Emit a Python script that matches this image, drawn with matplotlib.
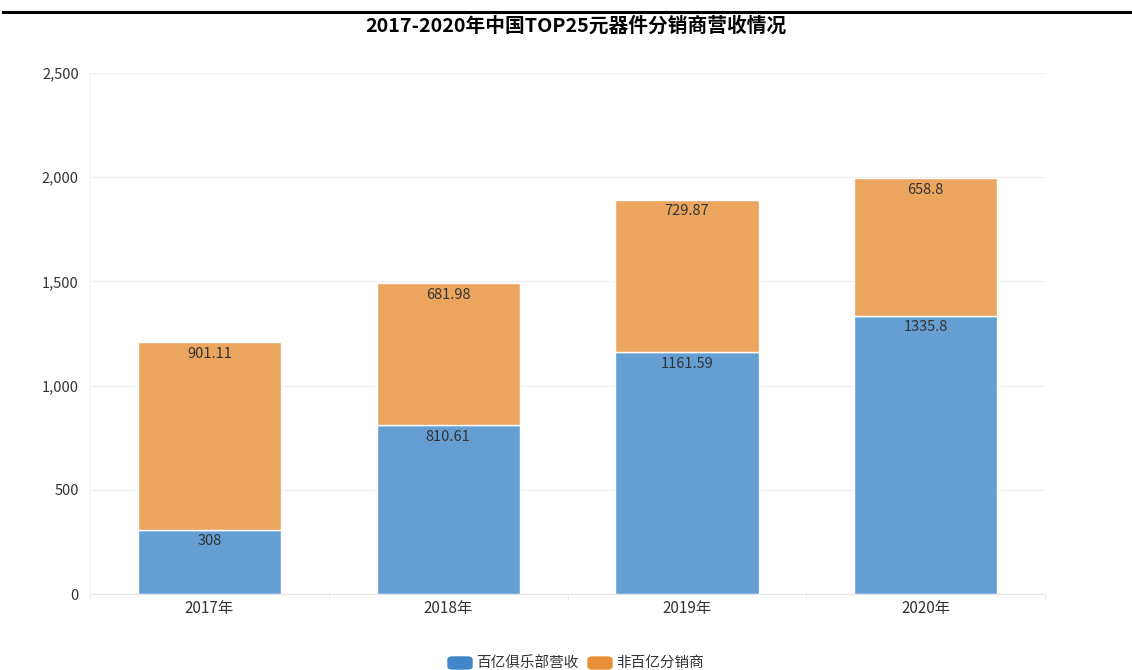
import numpy as np
import matplotlib.pyplot as plt
from matplotlib.patches import FancyBboxPatch

plt.rcParams['font.family'] = ['Noto Sans CJK SC', 'DejaVu Sans']

years = ["2017年", "2018年", "2019年", "2020年"]
club_rev = [308, 810.61, 1161.59, 1335.8]
other_rev = [901.11, 681.98, 729.87, 658.8]
club_labels = ["308", "810.61", "1161.59", "1335.8"]
other_labels = ["901.11", "681.98", "729.87", "658.8"]

blue = "#659ed3"
orange = "#eba55f"

fig = plt.figure(figsize=(11.32, 6.70), dpi=100)
ax = fig.add_axes([90 / 1132, 1 - 594 / 670, 955 / 1132, 521 / 670])

x = np.arange(len(years))
ax.bar(x, club_rev, width=0.6, color=blue, edgecolor="white", linewidth=1)
ax.bar(x, other_rev, width=0.6, bottom=club_rev, color=orange, edgecolor="white", linewidth=1)

for i in range(len(years)):
    ax.text(x[i], club_rev[i] - 22, club_labels[i], ha="center", va="top",
            fontsize=10.5, color="#333333")
    ax.text(x[i], club_rev[i] + other_rev[i] - 22, other_labels[i], ha="center", va="top",
            fontsize=10.5, color="#333333")

ax.set_xlim(-0.5, 3.5)
ax.set_ylim(0, 2500)
ax.set_yticks([0, 500, 1000, 1500, 2000, 2500])
ax.set_yticklabels(["0", "500", "1,000", "1,500", "2,000", "2,500"])
ax.set_xticks(x)
ax.set_xticklabels(years)
ax.set_xticks([-0.5, 0.5, 1.5, 2.5, 3.5], minor=True)
ax.tick_params(axis="x", which="major", length=0, pad=4, labelsize=11, labelcolor="#333333")
ax.tick_params(axis="x", which="minor", length=4, color="#e6e6e6")
ax.tick_params(axis="y", length=0, pad=8, labelsize=10.5, labelcolor="#333333")

ax.grid(axis="y", color="#f0f0f0", linewidth=1)
ax.set_axisbelow(True)
for s in ["top", "right"]:
    ax.spines[s].set_visible(False)
ax.spines["left"].set_color("#f0f0f0")
ax.spines["bottom"].set_color("#e6e6e6")

fig.text(0.509, 1 - 26 / 670, "2017-2020年中国TOP25元器件分销商营收情况", ha="center", va="center",
         fontsize=14.2, fontweight="bold", color="#000000")
fig.add_artist(plt.Line2D([3 / 1132, 1], [1 - 12 / 670, 1 - 12 / 670], color="black", linewidth=2.2))

# legend
for (lx, col, txt) in [(448, "#3f86c8", "百亿俱乐部营收"), (588, "#e8913a", "非百亿分销商")]:
    fig.add_artist(FancyBboxPatch((lx / 1132, 1 - 669 / 670), 24 / 1132, 12 / 670,
                                  boxstyle="round,pad=0,rounding_size=0.004",
                                  transform=fig.transFigure, color=col))
    fig.text((lx + 28) / 1132, 1 - 663 / 670, txt, ha="left", va="center",
             fontsize=10.5, color="#333333")

fig.savefig("out.png", dpi=100)
